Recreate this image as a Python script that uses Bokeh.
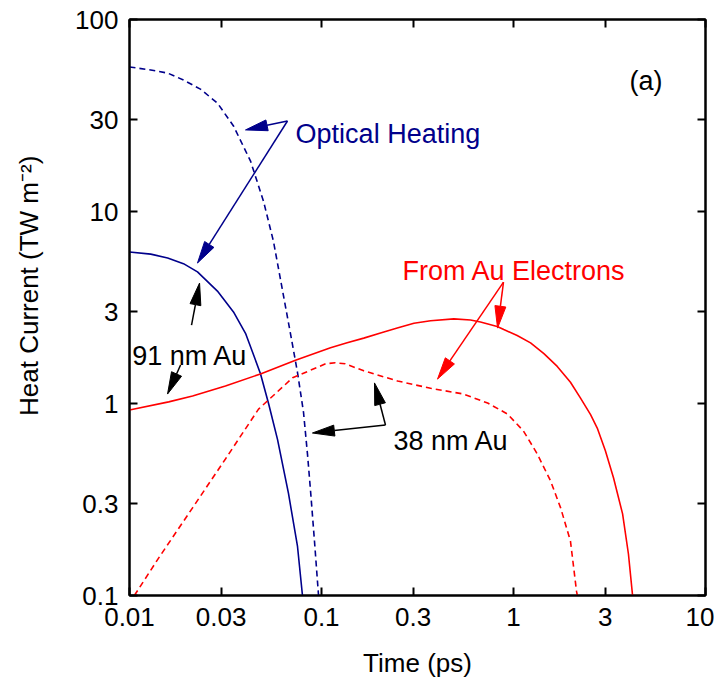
import math
from bokeh.plotting import figure
from bokeh.models import FixedTicker, LogAxis, CustomJSTickFormatter
from bokeh.core.properties import value
from bokeh.embed import file_html
from bokeh.resources import INLINE

# ---------------- data ----------------
x_ticks = [0.01, 0.03, 0.1, 0.3, 1, 3, 10]
y_ticks = [0.1, 0.3, 1, 3, 10, 30, 100]

# Optical heating, 91 nm Au (solid navy)
opt91_t = [0.01, 0.0129, 0.0158, 0.0191, 0.0226, 0.0287, 0.0348, 0.0402, 0.0442,
           0.0481, 0.053, 0.059, 0.0673, 0.075, 0.0796]
opt91_q = [6.15, 6.0, 5.73, 5.35, 4.85, 3.85, 3.0, 2.32, 1.80, 1.43, 1.0, 0.65,
           0.34, 0.18, 0.1]

# Optical heating, 38 nm Au (dashed navy)
opt38_t = [0.01, 0.0129, 0.0158, 0.0191, 0.0234, 0.0287, 0.0348, 0.0427, 0.0499,
           0.0562, 0.069, 0.075, 0.0806, 0.0846, 0.0877, 0.092, 0.0965]
opt38_q = [56.6, 54.6, 52.6, 48.4, 43.4, 36.7, 27.9, 18.3, 11.3, 7.0, 2.3, 1.45,
           0.9, 0.54, 0.35, 0.19, 0.1]

# From Au electrons, 91 nm Au (solid red)
el91_t = [0.01, 0.016, 0.0213, 0.0316, 0.0481, 0.0732, 0.1114, 0.136, 0.166, 0.203,
          0.248, 0.303, 0.370, 0.489, 0.597, 0.673, 0.822, 0.890, 1.045, 1.227,
          1.44, 1.69, 1.98, 2.23, 2.52, 2.73, 3.01, 3.32, 3.70, 3.97, 4.17]
el91_q = [0.925, 1.02, 1.094, 1.234, 1.425, 1.68, 1.95, 2.07, 2.19, 2.33,
          2.47, 2.62, 2.70, 2.76, 2.72, 2.66, 2.52, 2.43, 2.26, 2.07,
          1.82, 1.56, 1.29, 1.07, 0.875, 0.745, 0.567, 0.409, 0.266, 0.164, 0.1]

# From Au electrons, 38 nm Au (dashed red)
el38_t = [0.0106, 0.0142, 0.0213, 0.0316, 0.047, 0.0707, 0.105, 0.118, 0.133, 0.166,
          0.249, 0.370, 0.550, 0.733, 0.931, 1.127, 1.33, 1.56, 1.76, 1.98, 2.13, 2.15]
el38_q = [0.1, 0.157, 0.286, 0.514, 0.935, 1.36, 1.61, 1.63, 1.61, 1.48,
          1.31, 1.20, 1.12, 1.006, 0.881, 0.719, 0.546, 0.395, 0.286, 0.192, 0.105, 0.1]

NAVY = "#00008B"
RED = "#FF0000"
FONT = "Liberation Sans"

# annotation texts: (text, x, y, color)
labels = [
    ("Optical Heating", 0.0733, 25.3, NAVY),
    ("From Au Electrons", 0.264, 4.90, RED),
    ("91 nm Au", 0.01033, 1.767, "black"),
    ("38 nm Au", 0.237, 0.638, "black"),
    ("(a)", 4.02, 47.8, "black"),
]

# annotation arrows: (x_start, y_start, x_tip, y_tip, color)
arrows = [
    (0.0665, 29.6, 0.0402, 26.6, NAVY),
    (0.0665, 29.6, 0.0226, 5.39, NAVY),
    (0.887, 4.29, 0.826, 2.47, RED),
    (0.887, 4.29, 0.402, 1.34, RED),
    (0.02104, 2.56, 0.02317, 4.24, "black"),
    (0.01845, 1.587, 0.01578, 1.12, "black"),
    (0.2154, 0.773, 0.1888, 1.28, "black"),
    (0.2154, 0.773, 0.0897, 0.702, "black"),
]

# ---------------- figure ----------------
NBSP = "\u00a0"
p = figure(x_axis_type="log", y_axis_type="log",
           x_range=(0.01, 10), y_range=(0.1, 100),
           frame_width=576, frame_height=576,
           min_border_left=129, min_border_right=9,
           min_border_top=19, min_border_bottom=10,
           output_backend="svg", toolbar_location=None,
           x_axis_label="Time (ps)",
           y_axis_label=NBSP * 6 + "Heat Current (TW m\u207b\u00b2)")
p.grid.visible = False
p.outline_line_color = "black"
p.outline_line_width = 2
p.background_fill_color = "white"
p.border_fill_color = "white"

fmt = CustomJSTickFormatter(code="return tick.toString();")
for ax, ticks in ((p.xaxis[0], x_ticks), (p.yaxis[0], y_ticks)):
    ax.ticker = FixedTicker(ticks=ticks, minor_ticks=[])
    ax.formatter = fmt
    ax.major_tick_in = 8
    ax.major_tick_out = 0
    ax.minor_tick_in = 0
    ax.minor_tick_out = 0
    ax.axis_line_width = 2
    ax.major_tick_line_width = 2
    ax.major_label_text_font = FONT
    ax.major_label_text_font_size = "26px"
    ax.major_label_text_color = "black"
    ax.axis_label_text_font = FONT
    ax.axis_label_text_font_size = "26px"
    ax.axis_label_text_font_style = "normal"
    ax.axis_label_text_color = "black"
p.xaxis.major_label_standoff = 12
p.xaxis.axis_label_standoff = 19
p.yaxis.major_label_standoff = 11
p.yaxis.axis_label_standoff = 28

blank = CustomJSTickFormatter(code="return '';")
for side, ticks in (("above", x_ticks), ("right", y_ticks)):
    ax = LogAxis(ticker=FixedTicker(ticks=ticks, minor_ticks=[]), formatter=blank,
                 major_tick_in=8, major_tick_out=0, minor_tick_in=0, minor_tick_out=0,
                 major_label_standoff=0, major_label_text_font_size="0px",
                 axis_line_width=2, major_tick_line_width=2)
    p.add_layout(ax, side)

# curves
p.line(opt91_t, opt91_q, line_color=NAVY, line_width=1.6)
p.line(opt38_t, opt38_q, line_color=NAVY, line_width=1.6, line_dash="6 4")
p.line(el91_t, el91_q, line_color=RED, line_width=1.6)
p.line(el38_t, el38_q, line_color=RED, line_width=1.6, line_dash="6 4")

# arrows (both axes have the same pixels per decade, so log space is isotropic)
PX_PER_DEC = 576 / 3.0
HEAD_LEN = 22 / PX_PER_DEC
HEAD_HALF = 5.5 / PX_PER_DEC
for x0, y0, x1, y1, col in arrows:
    a0, b0, a1, b1 = map(math.log10, (x0, y0, x1, y1))
    dx, dy = a1 - a0, b1 - b0
    d = math.hypot(dx, dy)
    ux, uy = dx / d, dy / d
    bx, by = a1 - ux * HEAD_LEN, b1 - uy * HEAD_LEN
    nx, ny = -uy, ux
    p.segment(x0=[x0], y0=[y0], x1=[10 ** bx], y1=[10 ** by], line_color=col, line_width=1.5)
    hx = [10 ** a1, 10 ** (bx + nx * HEAD_HALF), 10 ** (bx - nx * HEAD_HALF)]
    hy = [10 ** b1, 10 ** (by + ny * HEAD_HALF), 10 ** (by - ny * HEAD_HALF)]
    p.patch(hx, hy, fill_color=col, line_color=col, line_width=1)

# texts
for txt, x, y, col in labels:
    p.text(x=[x], y=[y], text=[txt], text_color=col, text_font=value(FONT),
           text_font_size=value("27px"), text_align="left", text_baseline="alphabetic")

open("out.html", "w").write(file_html(p, INLINE))
